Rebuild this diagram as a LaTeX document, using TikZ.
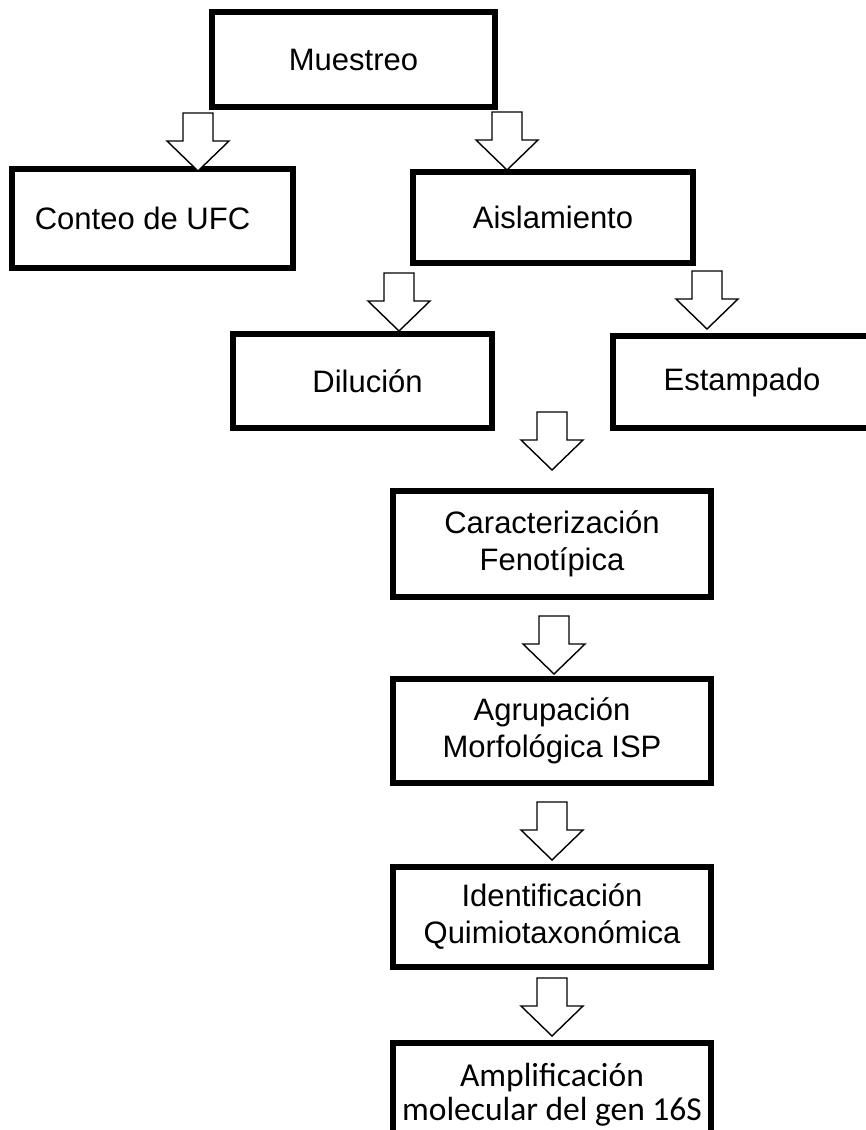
\documentclass[tikz,border=0pt]{standalone}
\usepackage{fontspec}
\setmainfont{Liberation Sans}
\newfontfamily\calibri{Carlito}

\tikzset{
  caja/.style={draw, line width=6pt, fill=white, align=center, inner sep=0pt,
    font=\fontsize{31}{37}\selectfont},
  flecha/.pic={
    \draw[line width=1.4pt, fill=white] (-15,0) -- (-15,28) -- (-31,28) -- (0,58)
      -- (31,28) -- (15,28) -- (15,0) -- cycle;
  }
}

\begin{document}
\begin{tikzpicture}[x=1pt,y=-1pt]
    \clip (0,0) rectangle (866,1130);

    \node[caja, minimum width=283pt, minimum height=95pt] (muestreo) at (353.5,59.5) {Muestreo};
    \node[caja, minimum width=281pt, minimum height=99pt] (conteo) at (152.5,218.5) {Conteo de UFC\hspace*{20pt}};
    \node[caja, minimum width=280pt, minimum height=91pt] (aislamiento) at (553,217.5) {Aislamiento};
    \node[caja, minimum width=259pt, minimum height=94pt] (dilucion) at (362.5,381) {\hspace*{10pt}Diluci\'on};
    \node[caja, minimum width=258pt, minimum height=92pt] (estampado) at (742,382) {Estampado};
    \node[caja, minimum width=318pt, minimum height=106pt] (caracterizacion) at (552,544) {Caracterizaci\'on\\Fenot\'ipica};
    \node[caja, minimum width=318pt, minimum height=104pt] (agrupacion) at (552,731) {Agrupaci\'on\\Morfol\'ogica ISP};
    \node[caja, minimum width=318pt, minimum height=100pt] (identificacion) at (552,917) {Identificaci\'on\\Quimiotaxon\'omica};
    \node[caja, minimum width=318pt, minimum height=104pt, font=\calibri\fontsize{33.5}{34}\selectfont] (amplificacion) at (552,1095) {Amplificaci\'on\\molecular del gen 16S};

    % flechas
    \pic at ([shift={(-11,3)}]muestreo.south west) {flecha};
    \pic at ([shift={(9,2)}]muestreo.south east) {flecha};
    \pic at ([shift={(-11,7)}]aislamiento.south west) {flecha};
    \pic at ([shift={(11,5)}]aislamiento.south east) {flecha};
    \pic at ([shift={(0,-76)}]caracterizacion.north) {flecha};
    \pic at ([shift={(2,16)}]caracterizacion.south) {flecha};
    \pic at ([shift={(0,16)}]agrupacion.south) {flecha};
    \pic at ([shift={(0,8)}]identificacion.south) {flecha};
\end{tikzpicture}
\end{document}
